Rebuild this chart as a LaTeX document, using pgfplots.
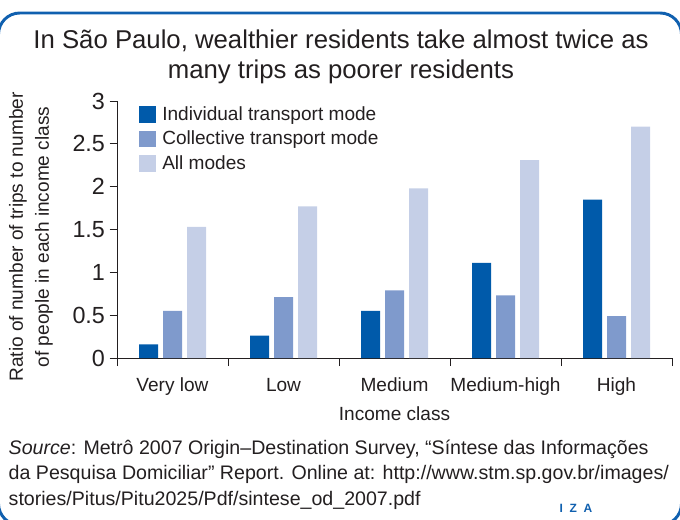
\documentclass[border=0pt]{standalone}
\usepackage{pgfplots}
\pgfplotsset{compat=1.18}
\usepackage{fontspec}
\setmainfont{Liberation Sans}
\definecolor{cInd}{HTML}{005AAA}
\definecolor{cCol}{HTML}{7F9ACC}
\definecolor{cAll}{HTML}{C5CFE7}
\definecolor{frameblue}{HTML}{1060AF}
\definecolor{txt}{HTML}{231F20}

\pgfplotstableread{
x ind col all
0 0.16 0.55 1.53
1 0.26 0.71 1.77
2 0.55 0.79 1.98
3 1.11 0.73 2.31
4 1.85 0.49 2.70
}\datatab

\begin{document}
\begin{tikzpicture}[x=0.75pt,y=0.75pt]
\useasboundingbox (0,0) rectangle (680,519);
\begin{scope}
\clip (0,0) rectangle (680,519);
\draw[frameblue, line width=2.2pt, rounded corners=16pt] (-1.5,-6) rectangle (681.5,506);
\end{scope}
% title
\node[txt, font=\fontsize{19.3pt}{23pt}\selectfont, align=center] at (341,462) {In São Paulo, wealthier residents take almost twice as\\many trips as poorer residents};
% y label
\node[txt, rotate=90, font=\fontsize{14.3pt}{19.5pt}\selectfont, align=center] at (31,282) {Ratio of number of trips to number\\of people in each income class};
\begin{axis}[
  at={(87.75pt,120.75pt)}, anchor=south west,
  scale only axis, width=416.25pt, height=192.75pt,
  xmin=-0.5, xmax=4.5, ymin=0, ymax=3,
  axis lines*=left, axis line style={txt, line width=0.6pt},
  ybar, bar width=14.25pt,
  xtick={0,1,2,3,4},
  xticklabels={Very low, Low, Medium, Medium-high, High},
  major x tick style={draw=none},
  minor xtick={-0.5,0.5,1.5,2.5,3.5,4.5},
  minor tick length=6pt,
  x tick style={txt, line width=0.6pt},
  ytick={0,0.5,1,1.5,2,2.5,3},
  yticklabels={0,0.5,1,1.5,2,2.5,3},
  y tick style={txt, line width=0.6pt},
  major tick length=5.5pt,
  tick align=outside,
  x tick label style={txt, font=\fontsize{14.3pt}{16pt}\selectfont, yshift=-6pt},
  y tick label style={txt, font=\fontsize{17.5pt}{19pt}\selectfont, xshift=0pt},
  xlabel={Income class},
  xlabel style={txt, font=\fontsize{14.3pt}{16pt}\selectfont, yshift=-1pt},
  legend style={at={(0.04,1.0)}, anchor=north west, draw=none, fill=none,
    font=\fontsize{14.3pt}{16pt}\selectfont, text=txt, row sep=2.5pt,
    legend cell align=left, inner xsep=0pt,
    nodes={inner xsep=4.5pt}},
  legend image code/.code={\fill[#1] (0pt,-6.3pt) rectangle (12.6pt,6.3pt);},
]
\addplot[fill=cInd, draw=none, bar shift=-18pt] table[x=x, y=ind] {\datatab};
\addplot[fill=cCol, draw=none, bar shift=0pt] table[x=x, y=col] {\datatab};
\addplot[fill=cAll, draw=none, bar shift=18pt] table[x=x, y=all] {\datatab};
\legend{Individual transport mode, Collective transport mode, All modes}
\end{axis}
% source
\node[txt, anchor=north west, font=\fontsize{14.7pt}{19.2pt}\selectfont, align=left] at (4,84) {\textit{Source}: Metrô 2007 Origin–Destination Survey, “Síntese das Informações\\da Pesquisa Domiciliar” Report. Online at: http://www.stm.sp.gov.br/images/\\stories/Pitus/Pitu2025/Pdf/sintese\_od\_2007.pdf};
\node[frameblue, font=\fontsize{9pt}{10pt}\selectfont\bfseries] at (576,11) {I\hspace{5pt}Z\hspace{5pt}A};
\end{tikzpicture}
\end{document}
